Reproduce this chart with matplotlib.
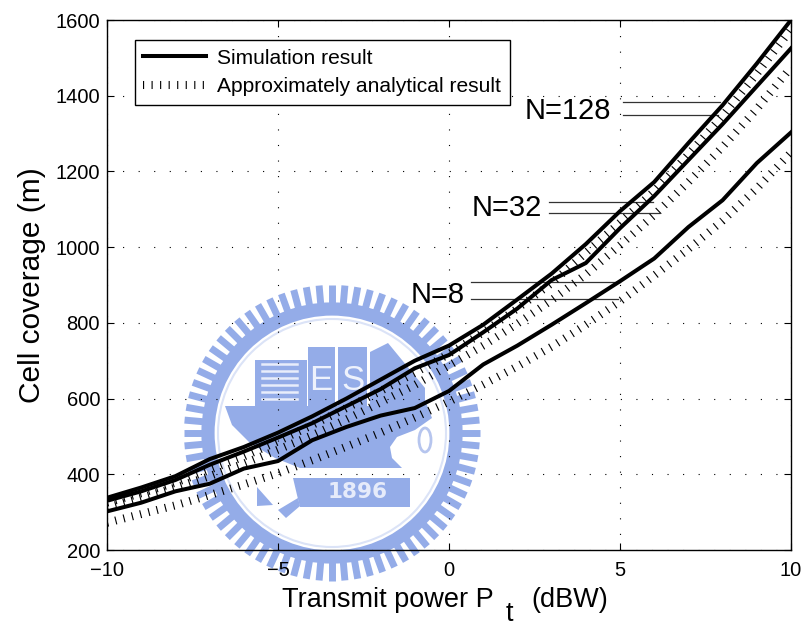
import numpy as np
import matplotlib
matplotlib.use('Agg')
import matplotlib.pyplot as plt
from matplotlib.patches import Polygon, Rectangle, Circle, Ellipse

plt.rcParams['font.family'] = ['Liberation Sans', 'DejaVu Sans']

# Datos
potencia = [-10, -9, -8, -7, -6, -5, -4, -3, -2, -1, 0, 1, 2, 3, 4, 5, 6, 7, 8, 9, 10]
sim_128 = [338, 365, 395, 440, 472, 510, 553, 600, 650, 700, 740, 795, 862, 930, 1008, 1095, 1172, 1275, 1375, 1485, 1600]
sim_32 = [330, 355, 385, 425, 460, 497, 535, 580, 625, 680, 715, 775, 838, 913, 958, 1050, 1135, 1230, 1325, 1425, 1525]
sim_8 = [302, 325, 355, 375, 415, 435, 490, 525, 555, 575, 620, 690, 740, 795, 852, 910, 970, 1053, 1124, 1222, 1303]
ana_128 = [325, 350, 378, 412, 447, 487, 530, 575, 620, 668, 718, 775, 838, 905, 985, 1065, 1148, 1245, 1347, 1458, 1575]
ana_32 = [312, 338, 365, 395, 428, 465, 503, 545, 590, 636, 687, 740, 798, 860, 928, 1005, 1085, 1172, 1265, 1365, 1475]
ana_8 = [272, 295, 318, 345, 373, 403, 437, 473, 510, 550, 592, 637, 685, 737, 795, 857, 925, 995, 1070, 1155, 1250]

yticks = [200, 400, 600, 800, 1000, 1200, 1400, 1600]
xticks = [-10, -5, 0, 5, 10]

etiquetas = ['N=128', 'N=32', 'N=8']
etiqueta_x = [4.74, 2.72, 0.47]
etiqueta_y = [1338, 1082, 852]
guia_x0 = [5.09, 2.92, 0.64]
guia_x1 = [7.92, 5.96, 5.0]
guia_x1b = [7.87, 6.14, 4.94]
guia_y_sup = [1383, 1119, 908]
guia_y_inf = [1349, 1090, 863]

AZUL = '#94ace8'

fig = plt.figure(figsize=(8.05, 6.26), dpi=100)

# Marca de agua: se dibuja debajo de todo, en pixeles de la figura
fondo = fig.add_axes([0, 0, 1, 1], zorder=0)
fondo.set_xlim(0, 805)
fondo.set_ylim(626, 0)
fondo.axis('off')
cx, cy = 332, 433
for ang in np.arange(0, 360, 5):
    c, s = np.cos(np.radians(ang)), np.sin(np.radians(ang))
    fondo.plot([cx + 126 * c, cx + 148 * c], [cy + 126 * s, cy + 148 * s],
               color=AZUL, lw=5.0, solid_capstyle='butt')
fondo.add_patch(Circle((cx, cy), 124, fc='none', ec=AZUL, lw=9.5))
fondo.add_patch(Circle((cx, cy), 114, fc='none', ec='#dbe3f7', lw=1.5))
# casco del barco
fondo.add_patch(Polygon([(225, 406), (232, 425), (250, 443), (275, 458), (300, 468), (402, 468),
                         (392, 458), (390, 447), (397, 437), (415, 430), (432, 418), (425, 400), (390, 406)],
                        fc=AZUL, ec='none'))
# libros y velas
fondo.add_patch(Rectangle((255, 360), 52, 47, fc=AZUL, ec='none'))
for yy in np.arange(364, 406, 7):
    fondo.plot([262, 297], [yy, yy], color='#e8edfb', lw=1.8)
fondo.add_patch(Rectangle((308, 347), 27, 60, fc=AZUL, ec='none'))
fondo.add_patch(Rectangle((338, 347), 29, 60, fc=AZUL, ec='none'))
fondo.add_patch(Polygon([(370, 407), (370, 352), (388, 343), (425, 388), (425, 407)], fc=AZUL, ec='none'))
fondo.text(321, 381, 'E', color='#eef2fc', fontsize=25, ha='center', va='center')
fondo.text(353, 381, 'S', color='#eef2fc', fontsize=25, ha='center', va='center')
fondo.add_patch(Ellipse((425, 440), 12, 24, fc='none', ec='#b6c5ee', lw=2))
# banda 1896
fondo.add_patch(Polygon([(293, 478), (410, 478), (410, 507), (300, 507), (297, 495)], fc=AZUL, ec='none'))
fondo.text(358, 492, '1896', color='#e6ebfa', fontsize=15.5, fontweight='bold', family='DejaVu Sans',
           ha='center', va='center')
fondo.add_patch(Polygon([(257, 487), (273, 505), (257, 506)], fc=AZUL, ec='none'))
fondo.add_patch(Polygon([(278, 510), (298, 498), (300, 506), (286, 518)], fc=AZUL, ec='none'))

ax = fig.add_axes([107 / 805, 1 - 550 / 626, 684 / 805, 530 / 626], zorder=1)
ax.patch.set_alpha(0)

# Curvas analiticas: linea ancha con trazos muy cortos, salen como rayitas
for i, ana in enumerate([ana_128, ana_32, ana_8]):
    ax.plot(potencia, ana, color='black', lw=5.8, linestyle=(0, (0.14, 0.92)),
            dash_capstyle='butt', zorder=2,
            label='Approximately analytical result' if i == 0 else None)
for i, sim in enumerate([sim_128, sim_32, sim_8]):
    ax.plot(potencia, sim, color='black', lw=2.9, solid_joinstyle='round', zorder=3,
            label='Simulation result' if i == 0 else None)

ax.set_xlim(-10, 10)
ax.set_ylim(200, 1600)
ax.set_xticks(xticks)
ax.set_yticks(yticks)
ax.tick_params(direction='in', top=True, right=True, length=5, width=0.8, labelsize=14.5, pad=5)
ax.tick_params(axis='x', pad=8)
ax.grid(True, color='black', linewidth=0.8, linestyle=(0, (1, 13)))
ax.set_axisbelow(True)
for lado in ax.spines.values():
    lado.set_linewidth(1.0)

ax.set_ylabel('Cell coverage (m)', fontsize=21.5, labelpad=7)

# Lineas guia y rotulos de N
for i in range(3):
    ax.plot([guia_x0[i], guia_x1[i]], [guia_y_sup[i], guia_y_sup[i]], color='#333333', lw=0.9, zorder=1.5)
    ax.plot([guia_x0[i], guia_x1b[i]], [guia_y_inf[i], guia_y_inf[i]], color='#333333', lw=0.9, zorder=1.5)
    ax.text(etiqueta_x[i], etiqueta_y[i], etiquetas[i], fontsize=21, ha='right', va='baseline')

# Leyenda
lineas, textos = ax.get_legend_handles_labels()
ley = ax.legend(lineas[::-1], textos[::-1], loc='upper left',
                bbox_to_anchor=((134.5 - 107) / 684, (550 - 40) / 530),
                fontsize=15.1, frameon=True, fancybox=False, framealpha=1, edgecolor='black',
                handlelength=3.0, handletextpad=0.53, labelspacing=0.46, borderpad=0.42, borderaxespad=0)
ley.get_frame().set_linewidth(1.0)

# Etiqueta x por partes, el subindice va bastante abajo
fig.text(282 / 805, 1 - 607 / 626, 'Transmit power P', fontsize=19.5, va='baseline')
fig.text(506 / 805, 1 - 621 / 626, 't', fontsize=19.5, va='baseline')
fig.text(531 / 805, 1 - 607 / 626, '(dBW)', fontsize=19.5, va='baseline')

fig.savefig('out.png', dpi=100)
